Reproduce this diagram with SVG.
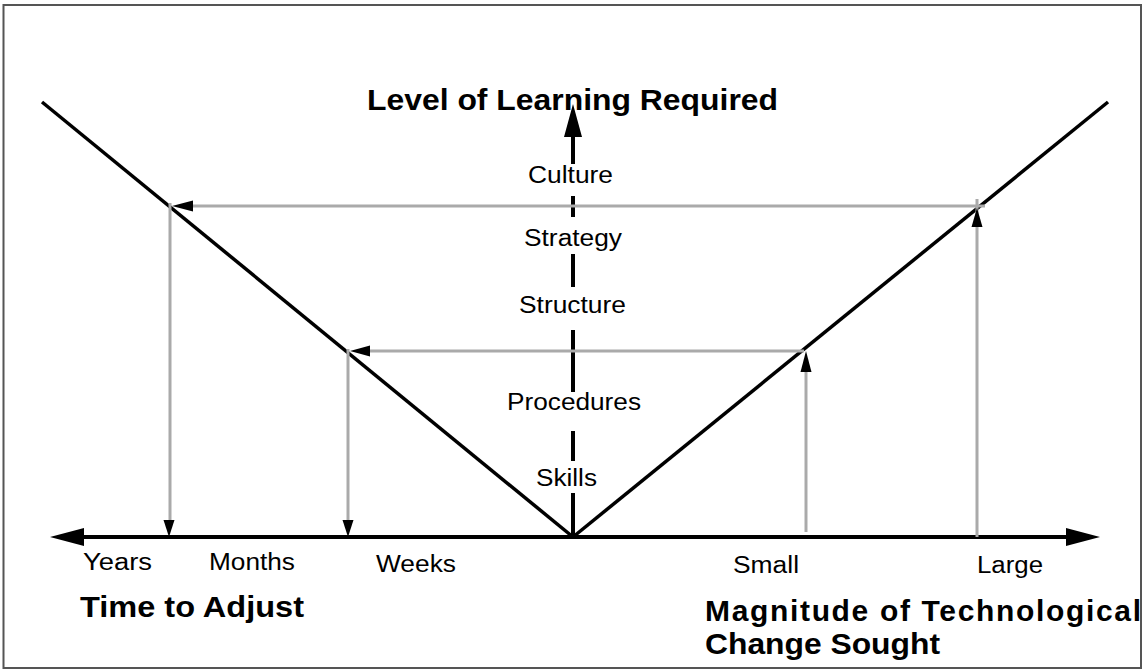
<svg xmlns="http://www.w3.org/2000/svg" width="1143" height="671" viewBox="0 0 1143 671">
<style>
.lbl{font-family:"Liberation Sans",Arial,sans-serif;font-size:23px;fill:#000}
.ttl{font-family:"Liberation Sans",Arial,sans-serif;font-size:30px;font-weight:bold;fill:#000}
.ax{stroke:#000;stroke-width:4;fill:none}
.v{stroke:#000;stroke-width:3.5;fill:none}
.g{stroke:#aaa;stroke-width:3;fill:none}
.ah{fill:#000}
</style>
<rect x="0" y="0" width="1143" height="671" fill="#fff"/>
<rect x="3.5" y="5" width="1137.5" height="663" fill="none" stroke="#555" stroke-width="2"/>
<g id="connectors">
  <line class="ax" x1="80" y1="537" x2="1070" y2="537"/>
  <polygon class="ah" points="50,537 84,528 84,546"/>
  <polygon class="ah" points="1100,537 1066,528 1066,546"/>
  <polygon class="ah" points="573,104 564,137 582,137"/>
  <g class="ax">
    <line x1="573" y1="135" x2="573" y2="164"/>
    <line x1="573" y1="196" x2="573" y2="217"/>
    <line x1="573" y1="254" x2="573" y2="287"/>
    <line x1="573" y1="330" x2="573" y2="392"/>
    <line x1="573" y1="431" x2="573" y2="461"/>
    <line x1="573" y1="493" x2="573" y2="537"/>
  </g>
  <line class="v" x1="42" y1="102" x2="573" y2="537"/>
  <line class="v" x1="573" y1="537" x2="1108" y2="102"/>
  <line class="g" x1="985" y1="206" x2="190" y2="206"/>
  <polygon class="ah" points="172,206 193,200.5 193,211.5"/>
  <line class="g" x1="170" y1="203" x2="170" y2="525"/>
  <polygon class="ah" points="169,537 163.5,520 174.5,520"/>
  <line class="g" x1="977" y1="537" x2="977" y2="199"/>
  <polygon class="ah" points="977,208 971.5,227 982.5,227"/>
  <line class="g" x1="804" y1="351" x2="365" y2="351"/>
  <polygon class="ah" points="350,351 370,345.5 370,356.5"/>
  <line class="g" x1="348" y1="349" x2="348" y2="525"/>
  <polygon class="ah" points="348,537 342.5,520 353.5,520"/>
  <line class="g" x1="806" y1="532" x2="806" y2="368"/>
  <polygon class="ah" points="806,351 800.5,372 811.5,372"/>
</g>
<g id="axis-labels">
  <text class="ttl" x="367" y="110" textLength="411" lengthAdjust="spacingAndGlyphs">Level of Learning Required</text>
  <text class="ttl" x="80" y="617" textLength="224" lengthAdjust="spacingAndGlyphs">Time to Adjust</text>
  <text class="ttl" x="705" y="621" textLength="436" lengthAdjust="spacing">Magnitude of Technological</text>
  <text class="ttl" x="705" y="654" textLength="235" lengthAdjust="spacingAndGlyphs">Change Sought</text>
</g>
<g id="levels">
  <text class="lbl" x="528" y="183" textLength="85" lengthAdjust="spacingAndGlyphs">Culture</text>
  <text class="lbl" x="524" y="246" textLength="98" lengthAdjust="spacingAndGlyphs">Strategy</text>
  <text class="lbl" x="519" y="313" textLength="107" lengthAdjust="spacingAndGlyphs">Structure</text>
  <text class="lbl" x="507" y="410" textLength="134" lengthAdjust="spacingAndGlyphs">Procedures</text>
  <text class="lbl" x="536" y="486" textLength="61" lengthAdjust="spacingAndGlyphs">Skills</text>
</g>
<g id="scale-labels">
  <text class="lbl" x="83" y="570" textLength="69" lengthAdjust="spacingAndGlyphs">Years</text>
  <text class="lbl" x="209" y="570" textLength="86" lengthAdjust="spacingAndGlyphs">Months</text>
  <text class="lbl" x="376" y="572" textLength="80" lengthAdjust="spacingAndGlyphs">Weeks</text>
  <text class="lbl" x="733" y="573" textLength="66" lengthAdjust="spacingAndGlyphs">Small</text>
  <text class="lbl" x="977" y="573" textLength="66" lengthAdjust="spacingAndGlyphs">Large</text>
</g>
</svg>
